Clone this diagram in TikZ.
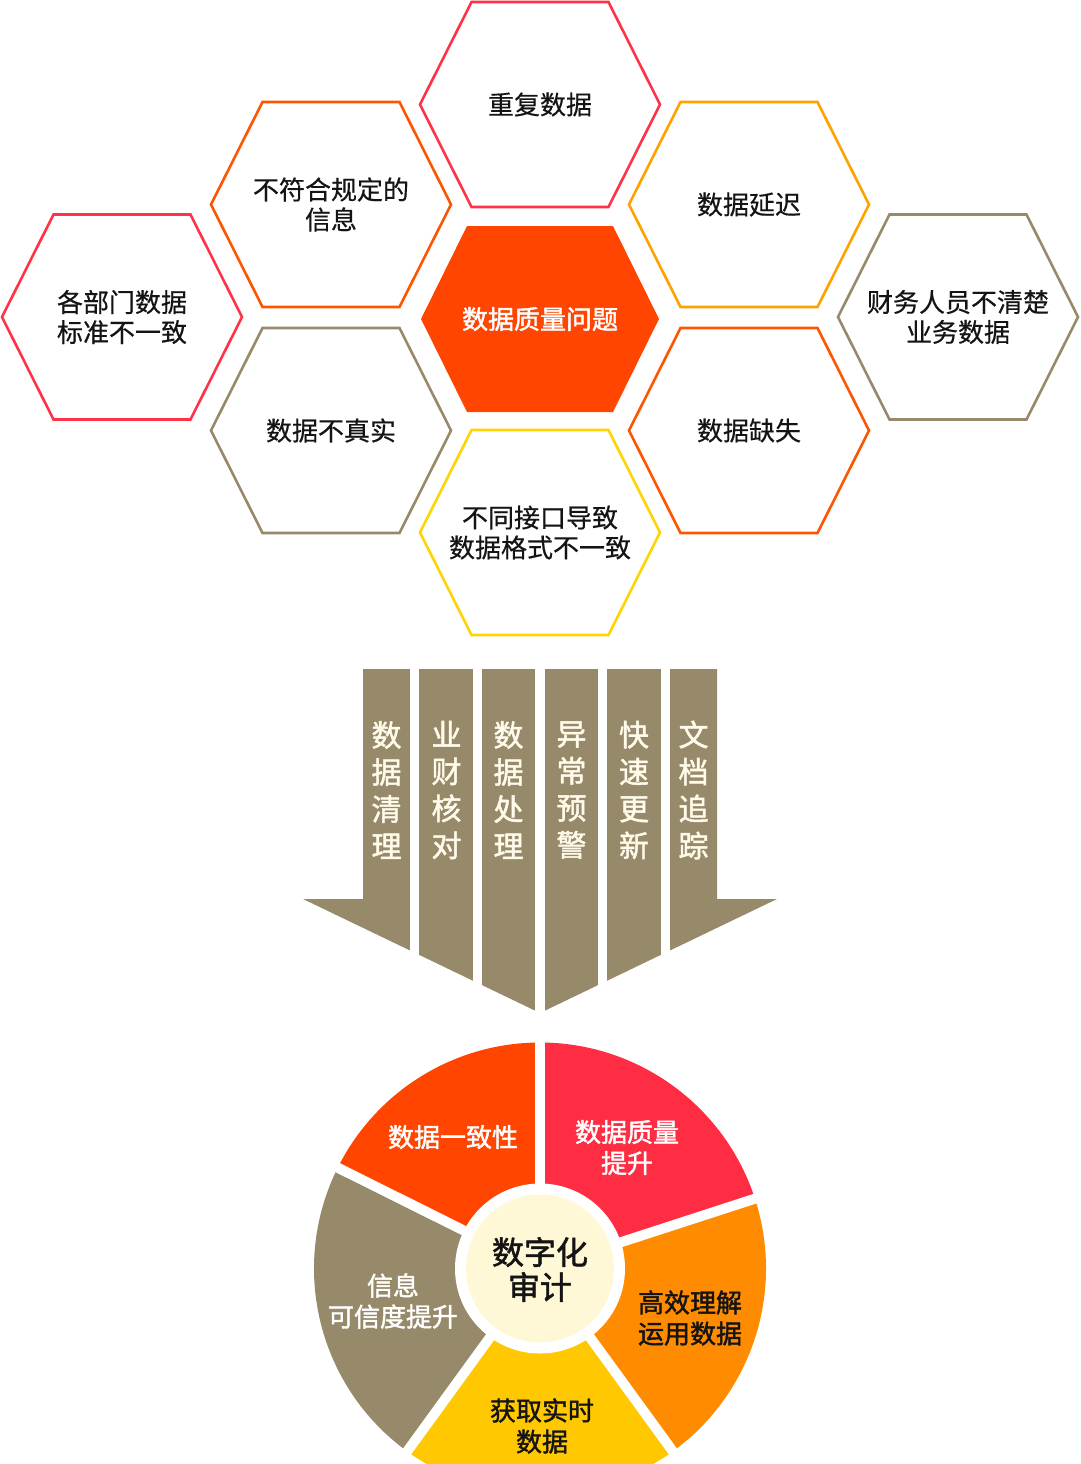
\documentclass[tikz,border=0pt]{standalone}
\usepackage{fontspec}
\setmainfont{Noto Sans CJK SC}
\newfontfamily\hexfont[FakeBold=0.5]{Noto Sans CJK SC}
\newfontfamily\medfont[FakeBold=1.6]{Noto Sans CJK SC}
\definecolor{hexred}{HTML}{FF3347}
\definecolor{hexorg}{HTML}{FF5400}
\definecolor{hexamber}{HTML}{FFA200}
\definecolor{khaki}{HTML}{968A6A}
\definecolor{hexyellow}{HTML}{FFD400}
\definecolor{core}{HTML}{FF4500}
\definecolor{pieA}{HTML}{FF4500}
\definecolor{pieB}{HTML}{FF2D44}
\definecolor{pieC}{HTML}{FF8C00}
\definecolor{pieD}{HTML}{FFC800}
\definecolor{cream}{HTML}{FFF8D6}
\definecolor{colcream}{HTML}{FFFAEA}
\definecolor{ink}{HTML}{141414}
\tikzset{
  hexline/.style={line width=2.6pt, line join=miter},
  hextext/.style={font=\hexfont\fontsize{26}{30}\selectfont, text=ink, align=center, inner sep=0pt},
  coltext/.style={font=\medfont\fontsize{30}{37}\selectfont, text=colcream, align=center, inner sep=0pt},
  pietext/.style={font=\medfont\fontsize{26}{31}\selectfont, align=center, inner sep=0pt},
  gapline/.style={white, line width=10pt},
}
\newcommand\hexcell[5]{%
  \draw[hexline, draw=#4] ({#2-120},{#3}) -- ({#2-68.5},{#3-102.5}) -- ({#2+68.5},{#3-102.5})
    -- ({#2+120},{#3}) -- ({#2+68.5},{#3+102.5}) -- ({#2-68.5},{#3+102.5}) -- cycle;
  \node[hextext] (#1) at (#2,#3) {#5};}
\begin{document}
\begin{tikzpicture}[x=1pt,y=-1pt]
\useasboundingbox (0,0) rectangle (1080,1464);
\clip (0,0) rectangle (1080,1464);
% ---------- hexagons ----------
\hexcell{hTop}{540}{104.5}{hexred}{重复数据}
\hexcell{hRule}{331}{204.5}{hexorg}{不符合规定的\\信息}
\hexcell{hDelay}{749}{204.5}{hexamber}{数据延迟}
\hexcell{hDept}{122}{317}{hexred}{各部门数据\\标准不一致}
\hexcell{hFin}{958}{317}{khaki}{财务人员不清楚\\业务数据}
\hexcell{hFalse}{331}{430.5}{khaki}{数据不真实}
\hexcell{hMiss}{749}{430.5}{hexorg}{数据缺失}
\hexcell{hFmt}{540}{532.5}{hexyellow}{不同接口导致\\数据格式不一致}
\fill[core] (421,319) -- (467,226) -- (613,226) -- (659,319) -- (613,412) -- (467,412) -- cycle;
\node[hextext, text=white, font=\medfont\fontsize{26}{30}\selectfont] (hCore) at (540,319) {数据质量问题};
% ---------- arrow ----------
\begin{scope}
\clip (303,899) -- (363,899) -- (363,669) -- (717,669) -- (717,899) -- (777,899) -- (540,1013) -- cycle;
\fill[khaki] (300,669) rectangle (410,1020);
\fill[khaki] (419,669) rectangle (473,1020);
\fill[khaki] (482,669) rectangle (535,1020);
\fill[khaki] (545,669) rectangle (598,1020);
\fill[khaki] (607,669) rectangle (661,1020);
\fill[khaki] (670,669) rectangle (780,1020);
\end{scope}
\node[coltext] (c1) at (386.5,790) {数\\据\\清\\理};
\node[coltext] (c2) at (446.5,790) {业\\财\\核\\对};
\node[coltext] (c3) at (508.5,790) {数\\据\\处\\理};
\node[coltext] (c4) at (571.5,790) {异\\常\\预\\警};
\node[coltext] (c5) at (634,790) {快\\速\\更\\新};
\node[coltext] (c6) at (693.5,790) {文\\档\\追\\踪};
% ---------- pie ----------
\coordinate (P) at (540,1268.5);
\fill[pieB] (P) -- ++(18:226pt) arc[start angle=18, end angle=90, radius=226pt] -- cycle;
\fill[pieA] (P) -- ++(90:226pt) arc[start angle=90, end angle=153.5, radius=226pt] -- cycle;
\fill[khaki] (P) -- ++(153.5:226pt) arc[start angle=153.5, end angle=234, radius=226pt] -- cycle;
\fill[pieD] (P) -- ++(234:226pt) arc[start angle=234, end angle=306, radius=226pt] -- cycle;
\fill[pieC] (P) -- ++(306:226pt) arc[start angle=306, end angle=378, radius=226pt] -- cycle;
\foreach \a in {18,90,153.5,234,306} {\draw[gapline] (P) -- ++(\a:240pt);}
\fill[white] (P) circle[radius=85pt];
\fill[cream] (P) circle[radius=74pt];
\node[pietext, text=white] (pA) at (453,1137) {数据一致性};
\node[pietext, text=white] (pB) at (627,1147.5) {数据质量\\提升};
\node[pietext, text=ink] (pC) at (690,1318) {高效理解\\运用数据};
\node[pietext, text=ink] (pD) at (542,1426) {获取实时\\数据};
\node[pietext, text=white] (pE) at (393,1301) {信息\\可信度提升};
\node[pietext, text=ink, font=\medfont\fontsize{32}{35}\selectfont] (pCenter) at (540,1269.5) {数字化\\审计};
\end{tikzpicture}
\end{document}
